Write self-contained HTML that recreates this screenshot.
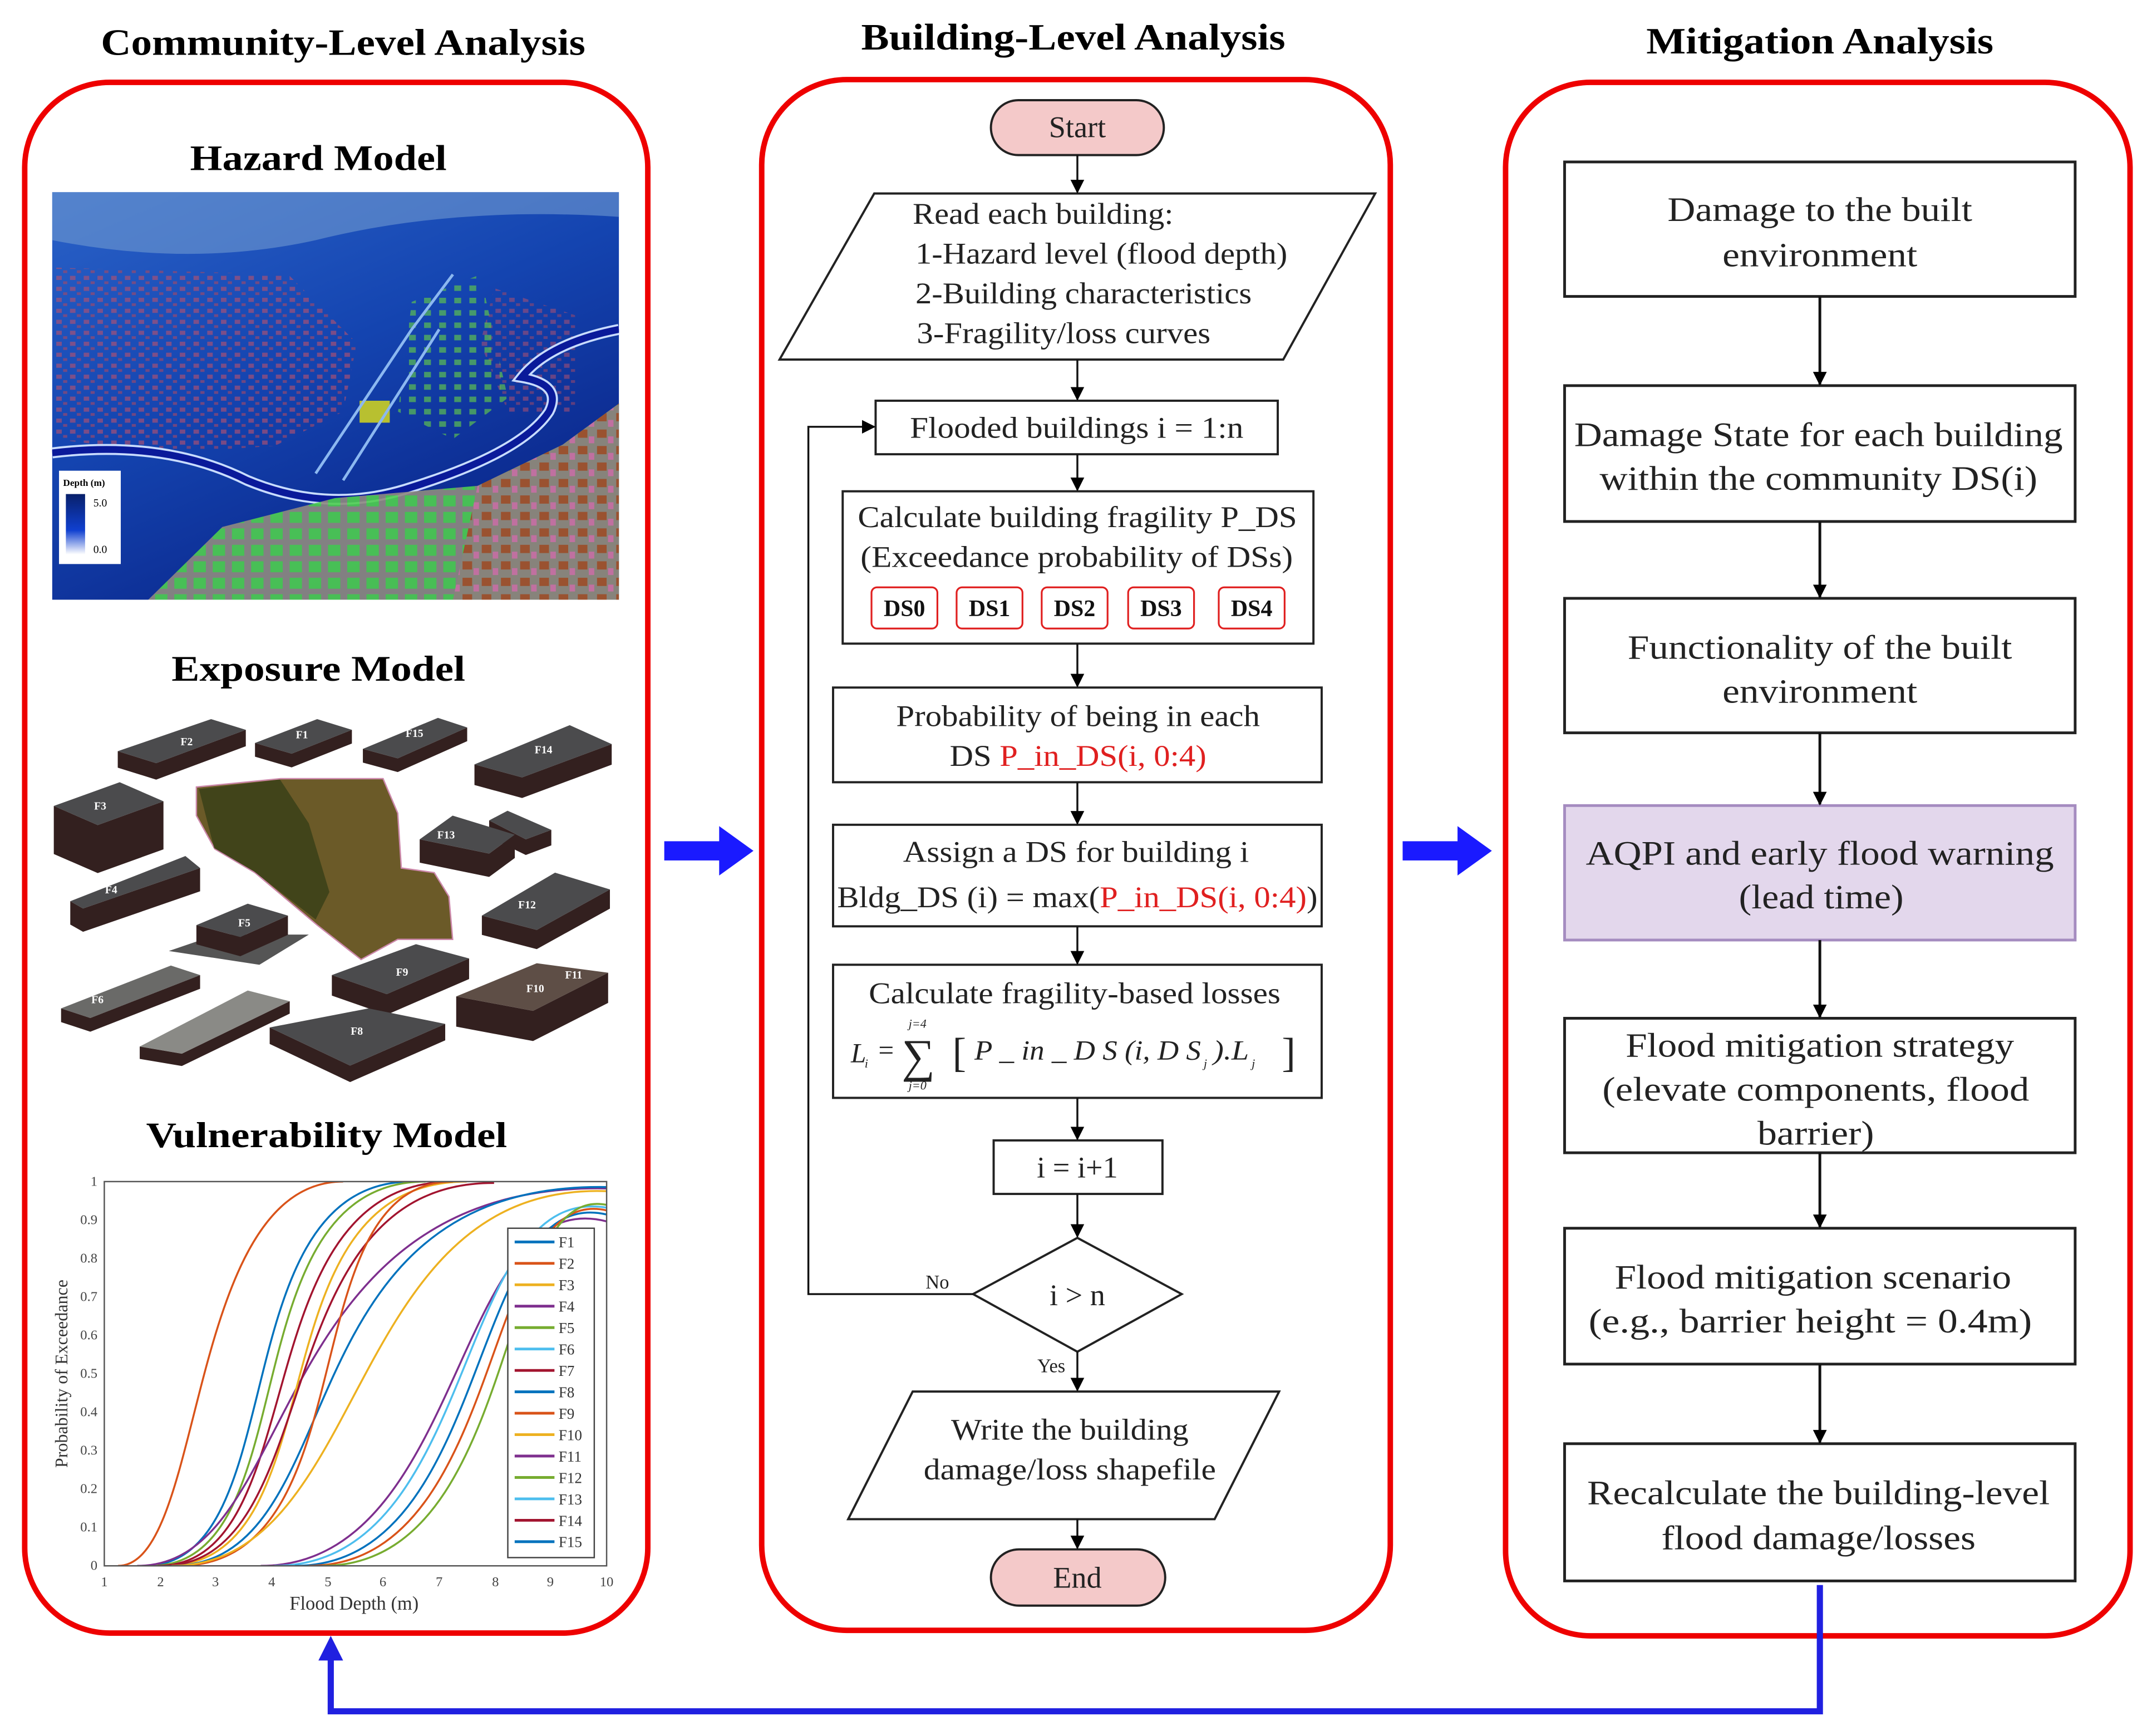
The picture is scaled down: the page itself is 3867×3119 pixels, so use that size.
<!DOCTYPE html>
<html><head><meta charset="utf-8"><style>
html,body{margin:0;padding:0;background:#fff;}
svg{display:block;}
svg text{font-family:"Liberation Serif","Times New Roman",serif !important;}
</style></head><body>
<svg width="3867" height="3119" viewBox="0 0 1568 1265" preserveAspectRatio="none" xmlns="http://www.w3.org/2000/svg" font-family="Liberation Serif, serif">
<defs>
<marker id="ah" markerWidth="10" markerHeight="10" refX="9" refY="5" orient="auto" markerUnits="userSpaceOnUse">
<path d="M0,0 L10,5 L0,10 z" fill="#000"/></marker>
<linearGradient id="sea" x1="0" y1="0" x2="0.6" y2="1">
<stop offset="0" stop-color="#2a62c8"/><stop offset="0.5" stop-color="#1444b0"/><stop offset="1" stop-color="#0a2488"/></linearGradient>
<linearGradient id="dep" x1="0" y1="0" x2="0" y2="1"><stop offset="0" stop-color="#08206a"/><stop offset="0.6" stop-color="#1040d0"/><stop offset="1" stop-color="#fff"/></linearGradient>
<pattern id="reds" width="10" height="8" patternUnits="userSpaceOnUse">
<rect x="1" y="1" width="4" height="3" fill="#b05070"/><rect x="6" y="5" width="3" height="2" fill="#a04868"/></pattern>
<pattern id="greens" width="11" height="9" patternUnits="userSpaceOnUse">
<rect x="1" y="1" width="5" height="4" fill="#5cbf50"/></pattern>
<pattern id="town" width="14" height="12" patternUnits="userSpaceOnUse">
<rect width="14" height="12" fill="#8f8a80"/><rect x="1" y="1" width="9" height="8" fill="#4fcf4f"/></pattern>
<pattern id="town2" width="14" height="12" patternUnits="userSpaceOnUse">
<rect width="14" height="12" fill="#87837b"/><rect x="1" y="1" width="7" height="6" fill="#9a5230"/><rect x="9" y="6" width="4" height="5" fill="#c070a0"/></pattern>
<clipPath id="mapclip"><rect x="38" y="140" width="413" height="297"/></clipPath>
<clipPath id="pc"><rect x="76" y="861" width="366" height="280"/></clipPath>
</defs>

<g font-weight="bold" font-size="27" text-anchor="middle" fill="#000">
<text x="250" y="40" textLength="353" lengthAdjust="spacingAndGlyphs">Community-Level Analysis</text>
<text x="782" y="36" textLength="309" lengthAdjust="spacingAndGlyphs">Building-Level Analysis</text>
<text x="1326" y="39" textLength="253" lengthAdjust="spacingAndGlyphs">Mitigation Analysis</text>
</g>

<g fill="none" stroke="#ee0000" stroke-width="4">
<rect x="18" y="60" width="454" height="1130" rx="62"/>
<rect x="555" y="58" width="458" height="1130" rx="62"/>
<rect x="1097" y="60" width="455" height="1132" rx="62"/>
</g>

<g fill="#1a1aff">
<rect x="484" y="613" width="42" height="14"/><polygon points="524,602 549,620 524,638"/>
<rect x="1022" y="613" width="42" height="14"/><polygon points="1062,602 1087,620 1062,638"/>
</g>
<polyline points="1326,1155 1326,1247 241,1247 241,1207" fill="none" stroke="#2020e0" stroke-width="4.5"/>
<polygon points="232,1210 250,1210 241,1192" fill="#2020e0"/>

<g font-weight="bold" font-size="26" text-anchor="middle">
<text x="232" y="124" textLength="187" lengthAdjust="spacingAndGlyphs">Hazard Model</text>
<text x="232" y="496" textLength="214" lengthAdjust="spacingAndGlyphs">Exposure Model</text>
<text x="238" y="836" textLength="263" lengthAdjust="spacingAndGlyphs">Vulnerability Model</text>
</g>
<g clip-path="url(#mapclip)">
<rect x="38" y="140" width="413" height="297" fill="url(#sea)"/>
<path d="M38,140 L451,140 L451,158 Q330,150 230,175 Q140,195 38,175 Z" fill="#6f9ad0" opacity="0.6"/>
<polygon points="40,195 210,200 260,250 250,300 200,325 120,330 40,320" fill="url(#reds)" opacity="0.65"/>
<polygon points="360,210 420,230 420,300 370,300 350,250" fill="url(#reds)" opacity="0.55"/>
<polygon points="300,220 350,200 370,290 330,320 290,300" fill="url(#greens)" opacity="0.7"/>
<rect x="262" y="292" width="22" height="16" fill="#b8c030"/>
<path d="M38,330 Q120,320 180,350 Q240,375 300,355 Q380,330 400,300 Q410,280 380,275 Q400,250 451,240" fill="none" stroke="#c8dcff" stroke-width="8"/>
<path d="M38,330 Q120,320 180,350 Q240,375 300,355 Q380,330 400,300 Q410,280 380,275 Q400,250 451,240" fill="none" stroke="#0a1a9a" stroke-width="5"/>
<path d="M230,345 L300,240 L330,200" stroke="#8cb8f0" stroke-width="2" fill="none"/>
<path d="M250,350 L320,240" stroke="#8cb8f0" stroke-width="2" fill="none"/>
<polygon points="108,437 162,384 244,363 348,354 410,324 451,294 451,437" fill="url(#town)" opacity="0.9"/>
<polygon points="330,437 348,354 410,324 451,294 451,437" fill="url(#town2)"/>
</g>
<rect x="43" y="343" width="45" height="68" fill="#fff"/>
<rect x="48" y="360" width="14" height="44" fill="url(#dep)"/>
<text x="46" y="354" font-size="7" font-weight="bold">Depth (m)</text>
<text x="68" y="369" font-size="8">5.0</text>
<text x="68" y="403" font-size="8">0.0</text>

<polygon points="143.1,573.5 204.5,567.4 279.1,567.4 289.8,592.5 292.4,632.5 316.4,635.9 327.1,653.3 329.8,684.5 289.8,684.5 263.1,699.2 231.1,674.1 185.8,635.9 156.5,618.6 143.1,594.3" fill="#6b5a28" stroke="#c8a" stroke-width="1"/>
<polygon points="145,575 204,568 225,600 240,650 230,670 185,635 156,618" fill="#2f3a14" opacity="0.7"/>
<g fill="#33201f">
<polygon points="85.8,547.4 113.8,556.1 179.1,531.8 179.1,543.8 113.8,568.1 85.8,559.4"/>
<polygon points="185.8,541.4 212.5,549.2 256.4,531.8 256.4,541.8 212.5,559.2 185.8,551.4"/>
<polygon points="264.4,545.7 289.8,552.6 340.4,530.1 340.4,540.1 289.8,562.6 264.4,555.7"/>
<polygon points="345.7,557 380.4,566.5 445.7,542.2 445.7,557.2 380.4,581.5 345.7,572"/>
<polygon points="39.2,587.3 71.2,601.2 119.1,583.9 119.1,618.9 71.2,636.2 39.2,622.3"/>
<polygon points="305.8,611.6 356.4,622 375.1,608.2 375.1,625.2 356.4,639 305.8,628.6"/>
<polygon points="356.4,597.8 383.1,611.6 401.7,604.7 401.7,616 383.1,623 356.4,610"/>
<polygon points="51.2,656.7 60.5,662 145.8,632.5 145.8,649.5 60.5,679 51.2,673.7"/>
<polygon points="351.1,667.2 391.1,677.6 444.4,648.1 444.4,662.1 391.1,691.6 351.1,681.2"/>
<polygon points="123,693 158,681 225,681 189,703" fill="#555"/>
<polygon points="143.1,674.1 175.1,682.8 209.8,667.2 209.8,681.2 175.1,696.8 143.1,688.1"/>
<polygon points="241.8,710.5 281.8,724.4 341.8,698.4 341.8,713.4 281.8,739.4 241.8,725.5"/>
<polygon points="332.4,726.1 388.4,736.6 443.1,708.8 443.1,730.8 388.4,758.6 332.4,748.1"/>
<polygon points="44.5,734.8 65.8,741.8 145.8,710.5 145.8,720.5 65.8,751.8 44.5,744.8"/>
<polygon points="101.8,762.6 132.5,767.8 211.1,729.6 211.1,738.6 132.5,776.8 101.8,771.6"/>
<polygon points="196.5,748.7 255.1,776.5 324.4,746.1 324.4,758.1 255.1,788.5 196.5,760.7"/>
</g>
<g fill="#4b4b4d">
<polygon points="85.8,547.4 153.8,524 179.1,531.8 113.8,556.1"/>
<polygon points="185.8,541.4 231.1,524 256.4,531.8 212.5,549.2"/>
<polygon points="264.4,545.7 319.1,523.1 340.4,530.1 289.8,552.6"/>
<polygon points="345.7,557 415.1,528.4 445.7,542.2 380.4,566.5"/>
<polygon points="39.2,587.3 87.2,570 119.1,583.9 71.2,601.2"/>
<polygon points="305.8,611.6 329.8,594.3 375.1,608.2 356.4,622"/>
<polygon points="356.4,597.8 369.8,590.8 401.7,604.7 383.1,611.6"/>
<polygon points="51.2,656.7 135.1,623.8 145.8,632.5 60.5,662"/>
<polygon points="351.1,667.2 404.4,635.9 444.4,648.1 391.1,677.6"/>
<polygon points="143.1,674.1 180.5,658.5 209.8,667.2 175.1,682.8"/>
<polygon points="241.8,710.5 303.1,688 341.8,698.4 281.8,724.4"/>
<polygon points="332.4,726.1 391.1,701.9 443.1,708.8 388.4,736.6" fill="#5e4e46"/>
<polygon points="44.5,734.8 124.5,703.6 145.8,710.5 65.8,741.8" fill="#6a6a68"/>
<polygon points="101.8,762.6 180.5,721.8 211.1,729.6 132.5,767.8" fill="#8a8a86"/>
<polygon points="196.5,748.7 268.5,734.8 324.4,746.1 255.1,776.5"/>
</g>
<g font-size="8" fill="#fff" font-weight="bold" text-anchor="middle">
<text x="136" y="543">F2</text><text x="220" y="538">F1</text><text x="302" y="537">F15</text><text x="396" y="549">F14</text><text x="73" y="590">F3</text><text x="325" y="611">F13</text><text x="81" y="651">F4</text><text x="384" y="662">F12</text><text x="178" y="675">F5</text><text x="293" y="711">F9</text><text x="390" y="723">F10</text><text x="418" y="713">F11</text><text x="71" y="731">F6</text><text x="124" y="749">F7</text><text x="260" y="754">F8</text>
</g>

<g font-size="10" fill="#444" text-anchor="end">
<text x="71" y="1144">0</text><text x="71" y="1116">0.1</text><text x="71" y="1088">0.2</text><text x="71" y="1060">0.3</text><text x="71" y="1032">0.4</text><text x="71" y="1004">0.5</text><text x="71" y="976">0.6</text><text x="71" y="948">0.7</text><text x="71" y="920">0.8</text><text x="71" y="892">0.9</text><text x="71" y="864">1</text>
</g>
<g font-size="10" fill="#444" text-anchor="middle">
<text x="76" y="1156">1</text><text x="117" y="1156">2</text><text x="157" y="1156">3</text><text x="198" y="1156">4</text><text x="239" y="1156">5</text><text x="279" y="1156">6</text><text x="320" y="1156">7</text><text x="361" y="1156">8</text><text x="401" y="1156">9</text><text x="442" y="1156">10</text>
</g>
<text x="258" y="1173" font-size="14" fill="#333" text-anchor="middle">Flood Depth (m)</text>
<text transform="translate(49,1001) rotate(-90)" font-size="13" fill="#333" text-anchor="middle">Probability of Exceedance</text>
<g clip-path="url(#pc)" fill="none" stroke-width="1.4">
<path d="M86,1141 C150,1141 135,861 250,861" stroke="#D95319"/>
<path d="M105,1141 C215,1141 160,861 300,861" stroke="#0072BD"/>
<path d="M110,1141 C225,1141 165,861 310,861" stroke="#77AC30"/>
<path d="M115,1141 C230,1141 175,861 330,861" stroke="#A2142F"/>
<path d="M100,1141 C220,1141 190,861 442,866" stroke="#7E2F8E"/>
<path d="M120,1141 C250,1141 180,861 340,861" stroke="#EDB120"/>
<path d="M118,1141 C240,1141 190,861 360,862" stroke="#A2142F"/>
<path d="M125,1141 C260,1141 200,861 442,865" stroke="#0072BD"/>
<path d="M130,1141 C270,1141 210,861 330,861" stroke="#D95319"/>
<path d="M125,1141 C270,1141 250,861 442,868" stroke="#EDB120"/>
<path d="M190,1141 C340,1141 330,861 442,890" stroke="#7E2F8E"/>
<path d="M200,1141 C350,1141 330,861 442,880" stroke="#4DBEEE"/>
<path d="M215,1141 C360,1141 340,861 442,885" stroke="#0072BD"/>
<path d="M225,1141 C370,1141 350,861 442,882" stroke="#D95319"/>
<path d="M235,1141 C380,1141 360,861 442,878" stroke="#77AC30"/>
</g>
<rect x="76" y="861" width="366" height="280" fill="none" stroke="#555" stroke-width="1"/>
<rect x="370" y="895" width="63" height="240" fill="#fff" stroke="#444" stroke-width="1"/>
<g stroke-width="2">
<line x1="375" y1="905" x2="404" y2="905" stroke="#0072BD"/><line x1="375" y1="920.6" x2="404" y2="920.6" stroke="#D95319"/><line x1="375" y1="936.2" x2="404" y2="936.2" stroke="#EDB120"/><line x1="375" y1="951.8" x2="404" y2="951.8" stroke="#7E2F8E"/><line x1="375" y1="967.4" x2="404" y2="967.4" stroke="#77AC30"/><line x1="375" y1="983" x2="404" y2="983" stroke="#4DBEEE"/><line x1="375" y1="998.6" x2="404" y2="998.6" stroke="#A2142F"/><line x1="375" y1="1014.2" x2="404" y2="1014.2" stroke="#0072BD"/><line x1="375" y1="1029.8" x2="404" y2="1029.8" stroke="#D95319"/><line x1="375" y1="1045.4" x2="404" y2="1045.4" stroke="#EDB120"/><line x1="375" y1="1061" x2="404" y2="1061" stroke="#7E2F8E"/><line x1="375" y1="1076.6" x2="404" y2="1076.6" stroke="#77AC30"/><line x1="375" y1="1092.2" x2="404" y2="1092.2" stroke="#4DBEEE"/><line x1="375" y1="1107.8" x2="404" y2="1107.8" stroke="#A2142F"/><line x1="375" y1="1123.4" x2="404" y2="1123.4" stroke="#0072BD"/>
</g>
<g font-size="11" fill="#333">
<text x="407" y="909">F1</text><text x="407" y="924.6">F2</text><text x="407" y="940.2">F3</text><text x="407" y="955.8">F4</text><text x="407" y="971.4">F5</text><text x="407" y="987">F6</text><text x="407" y="1002.6">F7</text><text x="407" y="1018.2">F8</text><text x="407" y="1033.8">F9</text><text x="407" y="1049.4">F10</text><text x="407" y="1065">F11</text><text x="407" y="1080.6">F12</text><text x="407" y="1096.2">F13</text><text x="407" y="1111.8">F14</text><text x="407" y="1127.4">F15</text>
</g>

<g stroke="#222" stroke-width="1.6" fill="#fff">
<rect x="722" y="73" width="126" height="40" rx="20" fill="#f4c9c9"/>
<polygon points="637,141 1002,141 935,262 568,262"/>
<rect x="638" y="292" width="293" height="39"/>
<rect x="614" y="358" width="343" height="111"/>
<rect x="607" y="501" width="356" height="69"/>
<rect x="607" y="601" width="356" height="74"/>
<rect x="607" y="703" width="356" height="97"/>
<rect x="724" y="831" width="123" height="39"/>
<polygon points="785,902 861,943 785,985 709,943"/>
<polygon points="665,1014 932,1014 885,1107 618,1107"/>
<rect x="722" y="1129" width="127" height="41" rx="20.5" fill="#f4c9c9"/>
</g>
<g stroke="#e02020" stroke-width="1.3" fill="#fff">
<rect x="635" y="428" width="48" height="30" rx="4"/><rect x="697" y="428" width="48" height="30" rx="4"/><rect x="759" y="428" width="48" height="30" rx="4"/><rect x="822" y="428" width="48" height="30" rx="4"/><rect x="888" y="428" width="48" height="30" rx="4"/>
</g>
<g stroke="#111" stroke-width="1.4" marker-end="url(#ah)" fill="none">
<line x1="785" y1="113" x2="785" y2="140"/><line x1="785" y1="262" x2="785" y2="291"/><line x1="785" y1="331" x2="785" y2="357"/><line x1="785" y1="469" x2="785" y2="500"/><line x1="785" y1="570" x2="785" y2="600"/><line x1="785" y1="675" x2="785" y2="702"/><line x1="785" y1="800" x2="785" y2="830"/><line x1="785" y1="870" x2="785" y2="901"/><line x1="785" y1="985" x2="785" y2="1013"/><line x1="785" y1="1107" x2="785" y2="1128"/>
<polyline points="709,943 589,943 589,311 637,311"/>
</g>
<g font-size="22" fill="#222">
<text x="785" y="100" text-anchor="middle">Start</text>
<text x="665" y="163" textLength="190" lengthAdjust="spacingAndGlyphs">Read each building:</text>
<text x="667" y="192" textLength="271" lengthAdjust="spacingAndGlyphs">1-Hazard level (flood depth)</text>
<text x="667" y="221" textLength="245" lengthAdjust="spacingAndGlyphs">2-Building characteristics</text>
<text x="668" y="250" textLength="214" lengthAdjust="spacingAndGlyphs">3-Fragility/loss curves</text>
<text x="663" y="319" textLength="243" lengthAdjust="spacingAndGlyphs">Flooded buildings i = 1:n</text>
<text x="625" y="384" textLength="320" lengthAdjust="spacingAndGlyphs">Calculate building fragility P_DS</text>
<text x="627" y="413" textLength="315" lengthAdjust="spacingAndGlyphs">(Exceedance probability of DSs)</text>
<text x="653" y="529" textLength="265" lengthAdjust="spacingAndGlyphs">Probability of being in each</text>
<text x="692" y="558" textLength="187" lengthAdjust="spacingAndGlyphs">DS <tspan fill="#e02020">P_in_DS(i, 0:4)</tspan></text>
<text x="658" y="628" textLength="252" lengthAdjust="spacingAndGlyphs">Assign a DS for building i</text>
<text x="610" y="661" textLength="350" lengthAdjust="spacingAndGlyphs">Bldg_DS (i) = max(<tspan fill="#e02020">P_in_DS(i, 0:4)</tspan>)</text>
<text x="633" y="731" textLength="300" lengthAdjust="spacingAndGlyphs">Calculate fragility-based losses</text>
<text x="785" y="858" text-anchor="middle">i = i+1</text>
<text x="785" y="951" text-anchor="middle">i &gt; n</text>
<text x="693" y="1049" textLength="173" lengthAdjust="spacingAndGlyphs">Write the building</text>
<text x="673" y="1078" textLength="213" lengthAdjust="spacingAndGlyphs">damage/loss shapefile</text>
<text x="785" y="1157" text-anchor="middle">End</text>
</g>
<g font-size="17" font-weight="bold" text-anchor="middle" fill="#111">
<text x="659" y="449">DS0</text><text x="721" y="449">DS1</text><text x="783" y="449">DS2</text><text x="846" y="449">DS3</text><text x="912" y="449">DS4</text>
</g>
<g font-style="italic" font-size="20" fill="#222">
<text x="620" y="774">L</text><text x="630" y="778" font-size="9">i</text>
<text x="640" y="772" font-style="normal">=</text>
<text x="657" y="781" font-size="34" font-style="normal">∑</text>
<text x="662" y="749" font-size="9">j=4</text><text x="662" y="794" font-size="9">j=0</text>
<text x="694" y="777" font-size="30" font-style="normal">[</text>
<text x="710" y="772" textLength="165" lengthAdjust="spacingAndGlyphs">P _ in _ D S (i, D S</text>
<text x="877" y="778" font-size="9">j</text>
<text x="884" y="772" textLength="26" lengthAdjust="spacingAndGlyphs">).L</text>
<text x="912" y="778" font-size="9">j</text>
<text x="934" y="777" font-size="30" font-style="normal">]</text>
</g>
<text x="683" y="939" font-size="14" text-anchor="middle" fill="#222">No</text>
<text x="766" y="1000" font-size="14" text-anchor="middle" fill="#222">Yes</text>

<g stroke="#222" stroke-width="2" fill="#fff">
<rect x="1140" y="118" width="372" height="98"/>
<rect x="1140" y="281" width="372" height="99"/>
<rect x="1140" y="436" width="372" height="98"/>
<rect x="1140" y="587" width="372" height="98" fill="#e3d7ec" stroke="#a58cc0"/>
<rect x="1140" y="742" width="372" height="98"/>
<rect x="1140" y="895" width="372" height="99"/>
<rect x="1140" y="1052" width="372" height="100"/>
</g>
<g stroke="#111" stroke-width="2" marker-end="url(#ah)">
<line x1="1326" y1="216" x2="1326" y2="280"/><line x1="1326" y1="380" x2="1326" y2="435"/><line x1="1326" y1="534" x2="1326" y2="586"/><line x1="1326" y1="685" x2="1326" y2="741"/><line x1="1326" y1="840" x2="1326" y2="894"/><line x1="1326" y1="994" x2="1326" y2="1051"/>
</g>
<g font-size="25" fill="#222" text-anchor="middle">
<text x="1326" y="161" textLength="222" lengthAdjust="spacingAndGlyphs">Damage to the built</text><text x="1326" y="194" textLength="142" lengthAdjust="spacingAndGlyphs">environment</text>
<text x="1325" y="325" textLength="356" lengthAdjust="spacingAndGlyphs">Damage State for each building</text><text x="1325" y="357" textLength="319" lengthAdjust="spacingAndGlyphs">within the community DS(i)</text>
<text x="1326" y="480" textLength="280" lengthAdjust="spacingAndGlyphs">Functionality of the built</text><text x="1326" y="512" textLength="142" lengthAdjust="spacingAndGlyphs">environment</text>
<text x="1326" y="630" textLength="341" lengthAdjust="spacingAndGlyphs">AQPI and early flood warning</text><text x="1327" y="662" textLength="120" lengthAdjust="spacingAndGlyphs">(lead time)</text>
<text x="1326" y="770" textLength="283" lengthAdjust="spacingAndGlyphs">Flood mitigation strategy</text><text x="1323" y="802" textLength="311" lengthAdjust="spacingAndGlyphs">(elevate components, flood</text><text x="1323" y="834" textLength="85" lengthAdjust="spacingAndGlyphs">barrier)</text>
<text x="1321" y="939" textLength="289" lengthAdjust="spacingAndGlyphs">Flood mitigation scenario</text><text x="1319" y="971" textLength="323" lengthAdjust="spacingAndGlyphs">(e.g., barrier height = 0.4m)</text>
<text x="1325" y="1096" textLength="337" lengthAdjust="spacingAndGlyphs">Recalculate the building-level</text><text x="1325" y="1129" textLength="229" lengthAdjust="spacingAndGlyphs">flood damage/losses</text>
</g>
</svg>
</body></html>
